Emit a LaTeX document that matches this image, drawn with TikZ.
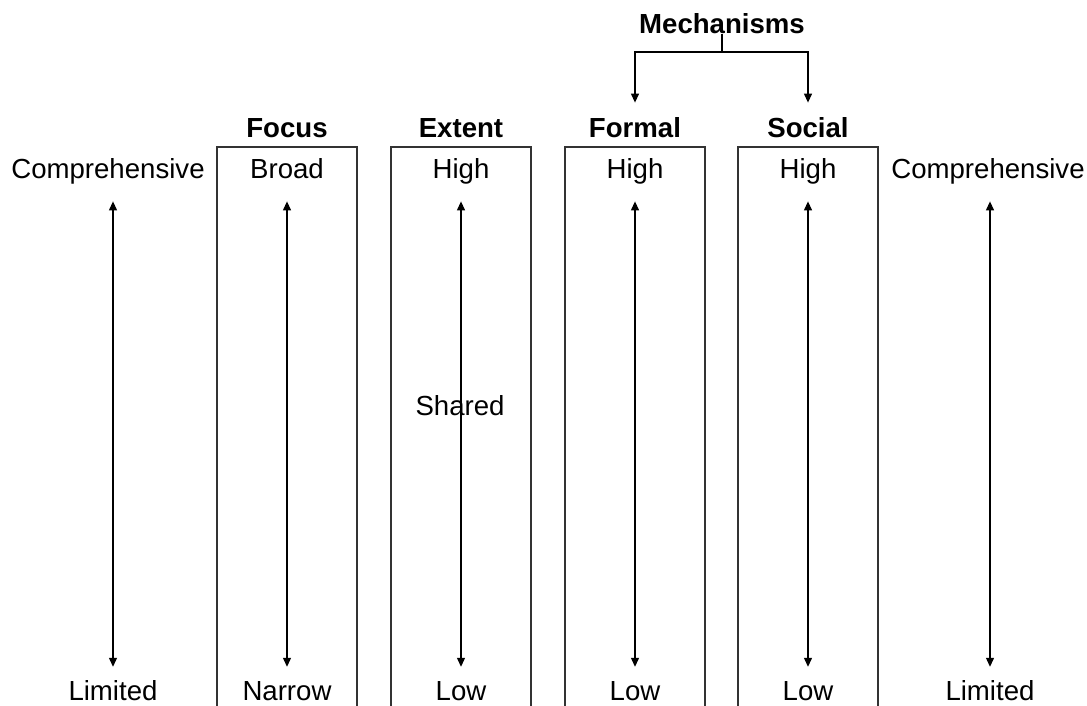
\documentclass[tikz,border=0pt]{standalone}
\usepackage{fontspec}
\setmainfont{Liberation Sans}
\usetikzlibrary{arrows.meta,positioning}

\begin{document}
\begin{tikzpicture}[
    x=0.5pt, y=-0.5pt,
    lbl/.style={inner sep=0, anchor=base, font=\fontsize{13.8pt}{16pt}\selectfont, text height=9.9pt, text depth=2.9pt},
    head/.style={lbl, font=\fontsize{13.8pt}{16pt}\selectfont\bfseries},
    frame/.style={draw=black!80, line width=0.7pt},
    line/.style={line width=0.6pt},
    arrow/.style={-{Triangle[length=4.5pt,width=4pt]}, line width=0.6pt},
    biarrow/.style={{Triangle[length=4.5pt,width=4pt]}-{Triangle[length=4.5pt,width=4pt]}, line width=0.6pt, shorten <=8.6pt, shorten >=6.5pt}
]
\useasboundingbox (0,0) rectangle (1087,706);

% Open boxes
\foreach \xl in {217,391,565,738}
    \draw[frame] (\xl,706) |- (\xl+140,147) -- (\xl+140,706);

% Mechanisms
\node[head] (mech) at (722,34) {Mechanisms};
\coordinate (split) at (722,52);

% Headers
\node[head] (focus) at (287,138) {Focus};
\node[head] (extent) at (461,138) {Extent};
\node[head] (formal) at (635,138) {Formal};
\node[head] (social) at (808,138) {Social};

% Top labels
\node[lbl] (compL) at (108,178) {Comprehensive};
\node[lbl] (broad) at (287,178) {Broad};
\node[lbl] (extHigh) at (461,178) {High};
\node[lbl] (forHigh) at (635,178) {High};
\node[lbl] (socHigh) at (808,178) {High};
\node[lbl] (compR) at (988,178) {Comprehensive};

% Bottom labels
\node[lbl] (limL) at (113,700) {Limited};
\node[lbl] (narrow) at (287,700) {Narrow};
\node[lbl] (extLow) at (461,700) {Low};
\node[lbl] (forLow) at (635,700) {Low};
\node[lbl] (socLow) at (808,700) {Low};
\node[lbl] (limR) at (990,700) {Limited};

% Middle label
\node[lbl] (shared) at (460,415) {Shared};

% Arrows
\draw[line] (mech.base) -- (split);
\draw[arrow, shorten >=7.6pt] (split) -| (formal.north);
\draw[arrow, shorten >=7.6pt] (split) -| (social.north);
\draw[biarrow] (limL |- compL.south) -- (limL.north);
\draw[biarrow] (broad) -- (narrow);
\draw[biarrow] (extHigh) -- (extLow);
\draw[biarrow] (forHigh) -- (forLow);
\draw[biarrow] (socHigh) -- (socLow);
\draw[biarrow] (limR |- compR.south) -- (limR.north);

\end{tikzpicture}
\end{document}
